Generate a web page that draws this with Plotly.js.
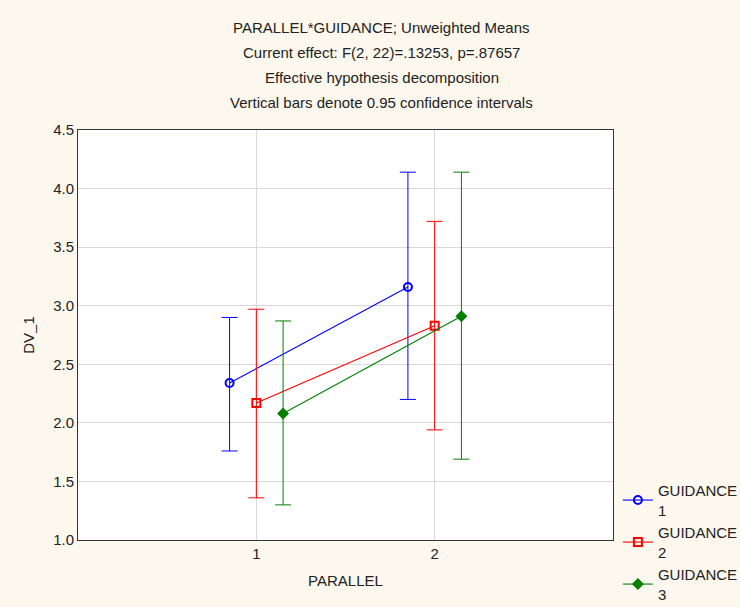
<!DOCTYPE html>
<html>
<head>
<meta charset="utf-8">
<script src="https://cdn.plot.ly/plotly-3.0.1.min.js"></script>
<style>html,body{margin:0;padding:0;background:#fdf8ee;}#chart{width:740px;height:607px;}</style>
</head>
<body>
<div id="chart"></div>
<script>
const parallelLevels = [1, 2];
const groupNames = ["GUIDANCE<br>1", "GUIDANCE<br>2", "GUIDANCE<br>3"];
const xOffsets = [-0.15, 0, 0.15];
const means1 = [2.34, 3.16];
const upper1 = [2.90, 4.14];
const lower1 = [1.76, 2.20];
const means2 = [2.17, 2.83];
const upper2 = [2.97, 3.72];
const lower2 = [1.36, 1.94];
const means3 = [2.08, 2.91];
const upper3 = [2.87, 4.14];
const lower3 = [1.30, 1.69];
const colors = ["#0000ff", "#ff0000", "#008000"];
const symbols = ["circle-open", "square-open", "diamond"];
const titleLines = [
  "PARALLEL*GUIDANCE; Unweighted Means",
  "Current effect: F(2, 22)=.13253, p=.87657",
  "Effective hypothesis decomposition",
  "Vertical bars denote 0.95 confidence intervals"
];

const FONT = "'Liberation Sans', Arial, sans-serif";
const means = [means1, means2, means3];
const uppers = [upper1, upper2, upper3];
const lowers = [lower1, lower2, lower3];

const traces = means.map((m, i) => ({
  type: "scatter",
  mode: "lines+markers",
  name: groupNames[i],
  x: parallelLevels.map(p => p + xOffsets[i]),
  y: m,
  line: {color: colors[i], width: 1.1},
  marker: {symbol: symbols[i], size: i === 2 ? 7 : 8, color: colors[i], line: {width: 2, color: colors[i]}},
  error_y: {
    type: "data", symmetric: false,
    array: m.map((v, j) => uppers[i][j] - v),
    arrayminus: m.map((v, j) => v - lowers[i][j]),
    color: colors[i], thickness: 1, width: 8
  }
}));

const annYs = [1.249, 1.19, 1.129, 1.068];
const annotations = titleLines.map((t, i) => ({
  text: t, xref: "paper", yref: "paper", x: 0.568, y: annYs[i],
  xanchor: "center", yanchor: "middle", showarrow: false,
  font: {family: FONT, size: 15, color: "#222"}
}));

const layout = {
  width: 740, height: 607,
  paper_bgcolor: "#fdf8ee",
  plot_bgcolor: "#ffffff",
  margin: {l: 78, r: 127, t: 130, b: 67},
  font: {family: FONT, size: 15, color: "#222"},
  showlegend: true,
  legend: {xref: "container", yref: "container", x: 0.835, y: 0.219, xanchor: "left", yanchor: "top",
           itemwidth: 30,
           bgcolor: "rgba(0,0,0,0)", font: {family: FONT, size: 15, color: "#222"}, tracegroupgap: 0},
  xaxis: {
    range: [0, 3], tickvals: parallelLevels, ticktext: ["1", "2"],
    showgrid: true, gridcolor: "#d9d9d9", zeroline: false,
    showline: true, linecolor: "#333", linewidth: 1, mirror: true,
    ticks: "", title: {text: "PARALLEL", font: {family: FONT, size: 15}, standoff: 14}
  },
  yaxis: {
    range: [1, 4.5], dtick: 0.5, tickformat: ".1f",
    showgrid: true, gridcolor: "#d9d9d9", zeroline: false,
    showline: true, linecolor: "#333", linewidth: 1, mirror: true,
    ticks: "", title: {text: "DV_1", font: {family: FONT, size: 15}, standoff: 14}
  },
  annotations: annotations
};

Plotly.newPlot("chart", traces, layout, {displayModeBar: false});
</script>
</body>
</html>
